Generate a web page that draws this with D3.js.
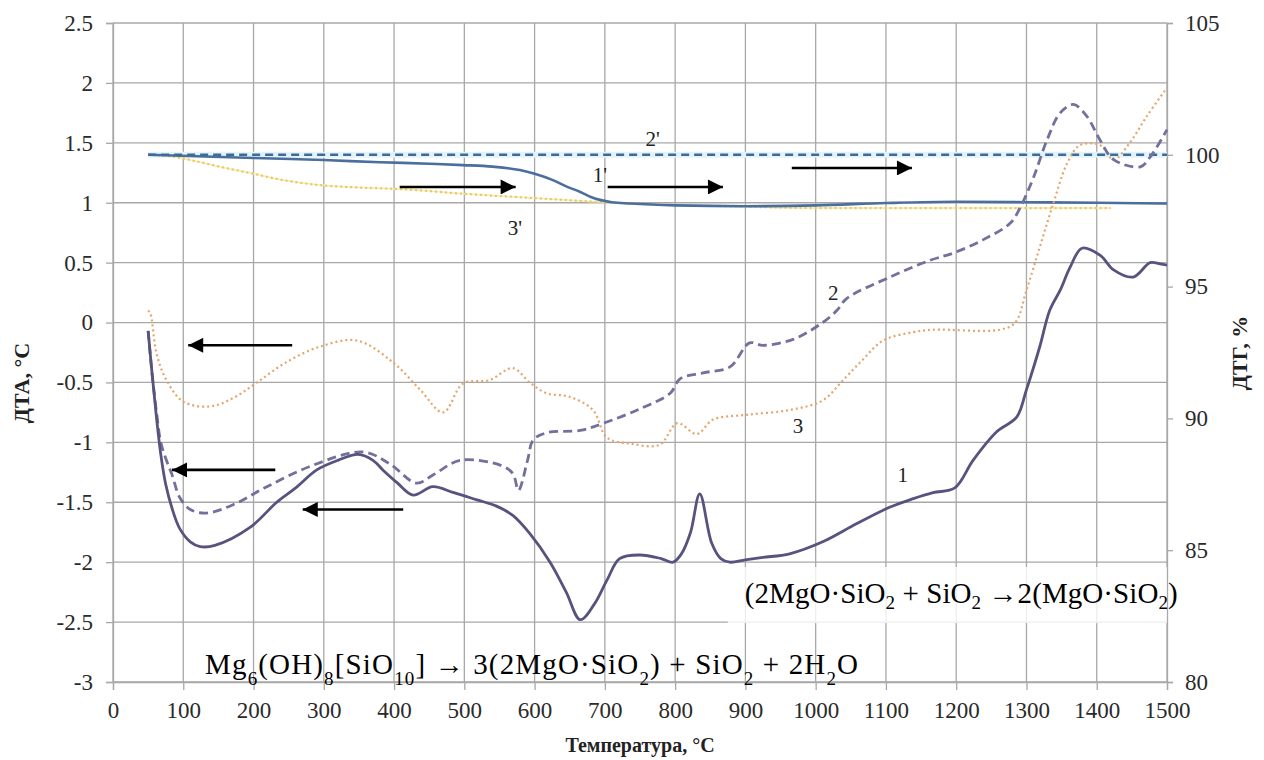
<!DOCTYPE html>
<html>
<head>
<meta charset="utf-8">
<script src="https://cdn.jsdelivr.net/npm/d3@7"></script>
<style>
  body { margin: 0; background: #fff; }
  text { font-family: 'Liberation Serif', 'Times New Roman', serif; }
</style>
</head>
<body>
<div id="chart"></div>
<script>
// ticks
const xTicks = [0, 100, 200, 300, 400, 500, 600, 700, 800, 900, 1000, 1100, 1200, 1300, 1400, 1500]
const leftTicks = [2.5, 2, 1.5, 1, 0.5, 0, -0.5, -1, -1.5, -2, -2.5, -3]
const rightTicks = [105, 100, 95, 90, 85, 80]

// DTA curve 1 (solid)
const t1 = [50, 56, 62, 68, 75, 84, 95, 110, 124, 145, 195, 233, 260, 290, 320, 349, 370, 384, 405, 427, 455, 485, 518, 545, 569, 593, 622, 645, 665, 685, 703, 721, 750, 780, 797, 809, 822, 835, 852, 865, 878, 900, 925, 963, 1010, 1058, 1106, 1139, 1167, 1198, 1224, 1258, 1286, 1300, 1319, 1333, 1348, 1362, 1379, 1405, 1424, 1452, 1476, 1490, 1500]
const dta1 = [-0.07, -0.45, -0.8, -1.1, -1.35, -1.55, -1.72, -1.83, -1.87, -1.86, -1.71, -1.5, -1.38, -1.23, -1.15, -1.1, -1.15, -1.23, -1.34, -1.44, -1.37, -1.42, -1.48, -1.53, -1.61, -1.76, -2.0, -2.25, -2.48, -2.35, -2.15, -1.97, -1.94, -1.97, -2.0, -1.93, -1.75, -1.43, -1.84, -1.97, -2.0, -1.98, -1.96, -1.93, -1.83, -1.68, -1.54, -1.47, -1.42, -1.38, -1.15, -0.91, -0.79, -0.56, -0.2, 0.1, 0.27, 0.46, 0.62, 0.56, 0.44, 0.38, 0.5, 0.49, 0.48]

// DTA curve 2 (dashed)
const t2 = [50, 56, 62, 68, 76, 84, 95, 110, 133, 171, 219, 285, 356, 394, 432, 456, 494, 551, 569, 577, 590, 598, 617, 665, 698, 750, 793, 807, 840, 878, 906, 925, 968, 1010, 1030, 1044, 1106, 1163, 1196, 1238, 1277, 1291, 1310, 1329, 1348, 1367, 1386, 1405, 1424, 1462, 1476, 1500]
const dta2 = [-0.07, -0.45, -0.75, -1.0, -1.15, -1.27, -1.46, -1.56, -1.59, -1.52, -1.37, -1.19, -1.08, -1.18, -1.34, -1.27, -1.15, -1.19, -1.26, -1.4, -1.15, -0.98, -0.92, -0.9, -0.84, -0.72, -0.59, -0.47, -0.42, -0.37, -0.17, -0.19, -0.14, 0.0, 0.1, 0.2, 0.38, 0.52, 0.58, 0.69, 0.83, 0.96, 1.21, 1.52, 1.75, 1.82, 1.72, 1.52, 1.36, 1.3, 1.38, 1.61]

// DTA curve 3 (dotted)
const t3 = [50, 53, 62, 76, 100, 138, 171, 205, 247, 295, 347, 398, 437, 470, 498, 536, 569, 593, 617, 650, 683, 703, 736, 778, 803, 831, 854, 902, 963, 1010, 1039, 1067, 1096, 1139, 1167, 1262, 1284, 1300, 1319, 1338, 1358, 1376, 1405, 1424, 1447, 1471, 1500]
const dta3 = [0.1, 0.08, -0.26, -0.48, -0.66, -0.7, -0.63, -0.5, -0.33, -0.2, -0.15, -0.33, -0.56, -0.75, -0.51, -0.48, -0.38, -0.5, -0.59, -0.62, -0.73, -0.96, -1.01, -1.02, -0.84, -0.93, -0.81, -0.77, -0.73, -0.65, -0.48, -0.31, -0.15, -0.08, -0.06, -0.06, 0.0, 0.27, 0.63, 0.99, 1.33, 1.48, 1.48, 1.36, 1.5, 1.72, 1.96]

// DTG curves (right axis)
const t1p = [50, 200, 300, 380, 450, 498, 540, 579, 600, 626, 645, 665, 680, 693, 710, 736, 800, 900, 1000, 1100, 1200, 1300, 1400, 1500]
const dtg1 = [100, 99.88, 99.8, 99.72, 99.66, 99.61, 99.55, 99.42, 99.28, 99.04, 98.8, 98.59, 98.4, 98.29, 98.2, 98.15, 98.08, 98.05, 98.08, 98.17, 98.22, 98.2, 98.18, 98.15]
const t2p = [50, 1500]
const dtg2 = [100, 100]
const t3p = [50, 80, 124, 160, 195, 240, 290, 350, 408, 500, 598, 700, 800, 900, 1000, 1100, 1200, 1300, 1420]
const dtg3 = [100, 99.95, 99.72, 99.5, 99.31, 99.05, 98.86, 98.76, 98.7, 98.52, 98.36, 98.2, 98.1, 98.03, 97.98, 97.98, 97.98, 97.98, 97.98]

// curve labels [text, temp, value, axis]
const curveLabels = [
  ['1', 1124, -1.27, 'L'], ['2', 1025, 0.25, 'L'], ['3', 975, -0.86, 'L'],
  ["1'", 693, 99.23, 'R'], ["2'", 768, 100.63, 'R'], ["3'", 572, 97.22, 'R']
]
// arrows [fromT, toT, value, axis]
const arrows = [
  [408, 573, 98.78, 'R'], [704, 868, 98.78, 'R'], [966, 1137, 99.5, 'R'],
  [255, 107, -0.19, 'L'], [231, 84, -1.23, 'L'], [413, 270, -1.56, 'L']
]

const width = 1264, height = 760
const svg = d3.select('#chart').append('svg')
  .attr('width', width).attr('height', height)
  .style('background', '#fff')

const x = d3.scaleLinear().domain([0, 1500]).range([113, 1167])
const yL = d3.scaleLinear().domain([-3, 2.5]).range([682, 23])
const yR = d3.scaleLinear().domain([80, 105]).range([682, 23])

const gridColor = '#a8a8a8'
const serif = "'Liberation Serif', 'Times New Roman', serif"

// grid
svg.append('g').selectAll('line').data(leftTicks).join('line')
  .attr('x1', x(0)).attr('x2', x(1500))
  .attr('y1', d => yL(d)).attr('y2', d => yL(d))
  .style('stroke', gridColor).style('stroke-width', 1.3)
svg.append('g').selectAll('line').data(xTicks).join('line')
  .attr('x1', d => x(d)).attr('x2', d => x(d))
  .attr('y1', yL(2.5)).attr('y2', yL(-3))
  .style('stroke', gridColor).style('stroke-width', 1.3)

// axes
const fmt = d => String(d)
const axL = svg.append('g').attr('transform', `translate(${x(0)},0)`)
  .call(d3.axisLeft(yL).tickValues(leftTicks).tickFormat(fmt).tickSize(7).tickPadding(13))
const axB = svg.append('g').attr('transform', `translate(0,${yL(-3)})`)
  .call(d3.axisBottom(x).tickValues(xTicks).tickFormat(fmt).tickSize(8).tickPadding(12))
const axR = svg.append('g').attr('transform', `translate(${x(1500)},0)`)
  .call(d3.axisRight(yR).tickValues(rightTicks).tickFormat(fmt).tickSize(6).tickPadding(12))
;[axL, axB, axR].forEach(g => {
  g.attr('font-family', serif).attr('font-size', 23)
  g.selectAll('path,line').style('stroke', gridColor).style('stroke-width', 1.3)
  g.selectAll('text').style('font-size', '23px').style('fill', '#2a2a2a')
    .style('font-family', serif)
})

// axis titles
svg.append('text').attr('x', x(750)).attr('y', 752)
  .attr('text-anchor', 'middle').style('font-weight', 'bold').style('font-size', '20px')
  .style('fill', '#222').text('Температура, °C')
svg.append('text').attr('transform', 'translate(29,383) rotate(-90)')
  .attr('text-anchor', 'middle').style('font-weight', 'bold').style('font-size', '22px')
  .style('fill', '#222').text('ДТА, °С')
svg.append('text').attr('transform', 'translate(1247,353) rotate(-90)')
  .attr('text-anchor', 'middle').style('font-weight', 'bold').style('font-size', '22px')
  .style('fill', '#222').text('ДТГ, %')

// formula box
svg.append('rect')
  .attr('x', x(875)).attr('y', yL(-2.04))
  .attr('width', x(1500) - x(875)).attr('height', yL(-2.5) - yL(-2.04) + 1)
  .style('fill', '#fff').style('opacity', 0.8)

function line(ts, vs, scale, curve) {
  return d3.line().curve(curve || d3.curveMonotoneX)
    .x(d => x(d[0])).y(d => scale(d[1]))(ts.map((t, i) => [t, vs[i]]))
}

// DTG curves
svg.append('path').attr('d', line(t2p, dtg2, yR))
  .style('fill', 'none').style('stroke', '#e2f4fa').style('stroke-width', 6)
svg.append('path').attr('d', line(t3p, dtg3, yR))
  .style('fill', 'none').style('stroke', '#f7eab0').style('stroke-width', 1.5)
svg.append('path').attr('d', line(t3p, dtg3, yR))
  .style('fill', 'none').style('stroke', '#e9c860').style('stroke-width', 2.2)
  .style('stroke-dasharray', '2,3')
svg.append('path').attr('d', line(t1p, dtg1, yR))
  .style('fill', 'none').style('stroke', '#4a6e9e').style('stroke-width', 2.6)
svg.append('path').attr('d', line(t2p, dtg2, yR))
  .style('fill', 'none').style('stroke', '#3d6a9a').style('stroke-width', 2.6)
  .style('stroke-dasharray', '8,5')

// DTA curves
svg.append('path').attr('d', line(t3, dta3, yL, d3.curveCatmullRom))
  .style('fill', 'none').style('stroke', '#e4a56a').style('stroke-width', 2.2)
  .style('stroke-dasharray', '2,3')
svg.append('path').attr('d', line(t2, dta2, yL, d3.curveCatmullRom))
  .style('fill', 'none').style('stroke', '#72709c').style('stroke-width', 2.8)
  .style('stroke-dasharray', '9,5')
svg.append('path').attr('d', line(t1, dta1, yL, d3.curveCatmullRom))
  .style('fill', 'none').style('stroke', '#56537e').style('stroke-width', 2.8)

// arrows
svg.append('defs').append('marker')
  .attr('id', 'head').attr('viewBox', '0 0 10 10')
  .attr('refX', 10).attr('refY', 5)
  .attr('markerUnits', 'userSpaceOnUse')
  .attr('markerWidth', 16).attr('markerHeight', 15)
  .attr('orient', 'auto')
  .append('path').attr('d', 'M0,0L10,5L0,10Z').style('fill', '#000')
svg.append('g').selectAll('line').data(arrows).join('line')
  .attr('x1', d => x(d[0])).attr('x2', d => x(d[1]))
  .attr('y1', d => (d[3] === 'L' ? yL : yR)(d[2]))
  .attr('y2', d => (d[3] === 'L' ? yL : yR)(d[2]))
  .style('stroke', '#000').style('stroke-width', 2.6)
  .attr('marker-end', 'url(#head)')

// curve labels
svg.append('g').selectAll('text').data(curveLabels).join('text')
  .attr('x', d => x(d[1])).attr('y', d => (d[3] === 'L' ? yL : yR)(d[2]))
  .attr('text-anchor', 'middle').attr('dy', '0.35em')
  .style('font-size', '21px').style('fill', '#222')
  .text(d => d[0])

// reaction formulas
function formula(parts, tx, val, len) {
  const t = svg.append('text').attr('x', x(tx)).attr('y', yL(val))
    .style('font-size', '29px').style('fill', '#000')
    .attr('textLength', len).attr('lengthAdjust', 'spacing')
  let down = 0
  parts.forEach(p => {
    const sub = Array.isArray(p)
    const shift = sub ? p[1] : 0
    t.append('tspan').attr('dy', shift - down)
      .style('font-size', sub ? '19px' : '29px')
      .text(sub ? p[0] : p)
    down = shift
  })
}
formula(['Mg', ['6', 11], '(OH)', ['8', 11], '[SiO', ['10', 11], '] → 3(2MgO·SiO', ['2', 11], ') + SiO', ['2', 11], ' + 2H', ['2', 11], 'O'], 131, -2.935, 653)
formula(['(2MgO·SiO', ['2', 6], ' + SiO', ['2', 6], ' →2(MgO·SiO', ['2', 6], ')'], 899, -2.34, 433)
</script>
</body>
</html>
